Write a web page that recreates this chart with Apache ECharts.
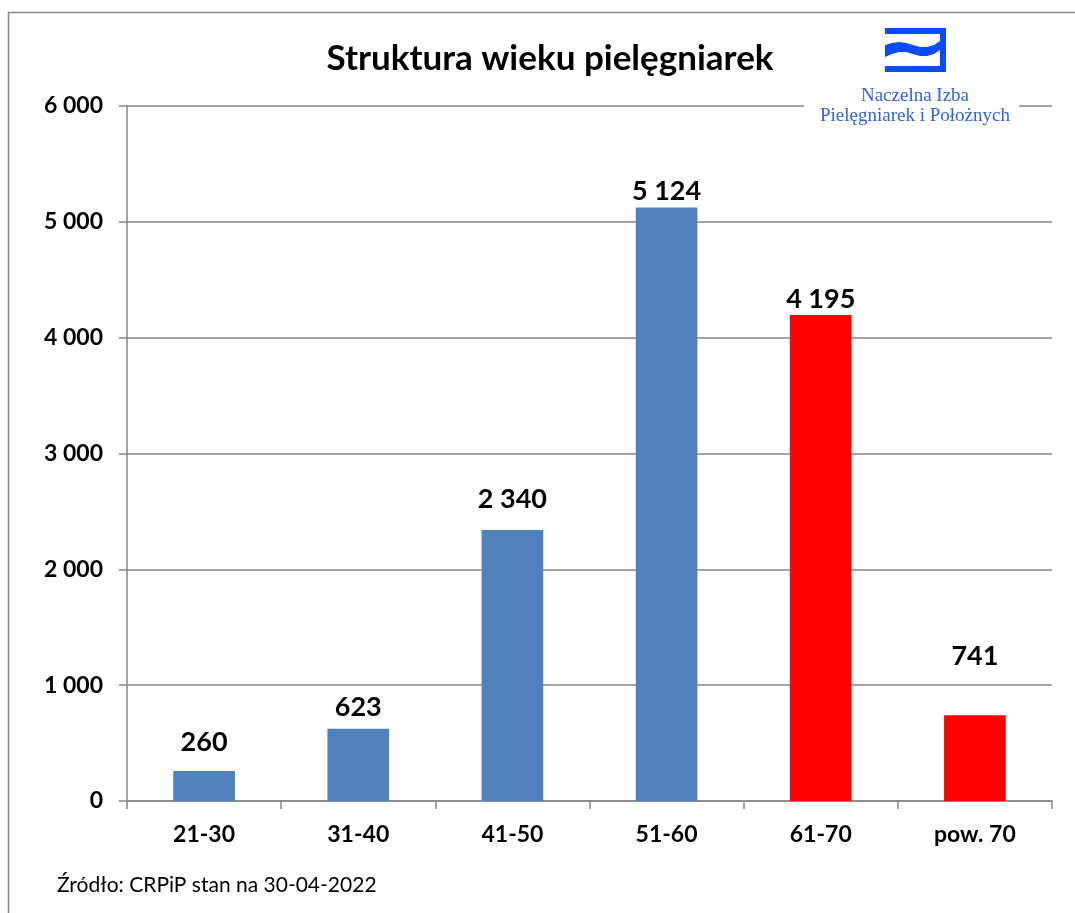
<!DOCTYPE html>
<html>
<head>
	<meta charset="utf-8">
	<title>Struktura wieku pielęgniarek</title>
	<style type="text/css">
		html, body { margin: 0; padding: 0; background: #fff; }
		#chart { width: 1075px; height: 913px; }
	</style>
</head>
<body>
	<div id="chart"></div>
	<script src="https://cdn.jsdelivr.net/npm/echarts@6/dist/echarts.min.js"></script>
	<script type="text/javascript">
		var categories = ['21-30', '31-40', '41-50', '51-60', '61-70', 'pow. 70'];
		var values = [260, 623, 2340, 5124, 4195, 741];
		var barColors = ['#4F81BD', '#4F81BD', '#4F81BD', '#4F81BD', '#FF0000', '#FF0000'];
		// odstęp etykiety od słupka (jak w oryginale)
		var labelGaps = [15, 8, 17, 3, 2, 45];

		function fmt(v) {
			return String(v).replace(/\B(?=(\d{3})+(?!\d))/g, ' ');
		}

		var seriesData = values.map(function(v, i) {
			return {
				value: v,
				itemStyle: { color: barColors[i] },
				label: { distance: labelGaps[i] }
			};
		});

		// fala w logo
		var wave = [
			[885, 45], [892, 43], [899, 42], [906, 43], [913, 45], [920, 47], [927, 47], [934, 45], [940, 41],
			[940, 50], [934, 54], [927, 56], [920, 56], [913, 54], [906, 52], [899, 52], [892, 54], [885, 57]
		];

		var chart = echarts.init(document.getElementById('chart'));
		var option = {
			backgroundColor: '#fff',
			animation: false,
			textStyle: { fontFamily: 'Lato' },
			grid: { left: 127, right: 23, top: 106, bottom: 112 },
			xAxis: {
				type: 'category',
				data: categories,
				axisLine: { lineStyle: { color: '#868686', width: 1.5 } },
				axisTick: { show: true, length: 8, lineStyle: { color: '#868686', width: 1.5 } },
				axisLabel: { color: '#000', fontWeight: 'bold', fontSize: 23, margin: 22 }
			},
			yAxis: {
				type: 'value',
				min: 0,
				max: 6000,
				interval: 1000,
				axisLine: { show: true, lineStyle: { color: '#868686', width: 1.5 } },
				axisTick: { show: true, length: 8, lineStyle: { color: '#868686', width: 1.5 } },
				splitLine: { lineStyle: { color: '#868686', width: 1.5 } },
				axisLabel: {
					color: '#000', fontWeight: 'bold', fontSize: 23, margin: 24,
					formatter: fmt
				}
			},
			series: [{
				type: 'bar',
				data: seriesData,
				barCategoryGap: '60%',
				label: {
					show: true,
					position: 'top',
					color: '#000',
					fontWeight: 'bold',
					fontSize: 27,
					formatter: function(p) { return fmt(p.value); }
				}
			}],
			title: {
				text: 'Struktura wieku pielęgniarek',
				left: 545,
				textAlign: 'center',
				top: 36,
				textStyle: { color: '#000', fontWeight: 'bold', fontSize: 35, fontFamily: 'Lato' }
			},
			graphic: [
				// ramka
				{ type: 'rect', z: 0, silent: true,
					shape: { x: 8.5, y: 12.5, width: 1100, height: 1000 },
					style: { fill: 'none', stroke: '#868686', lineWidth: 1.5 } },
				// tło pod logo
				{ type: 'rect', z: 10, silent: true,
					shape: { x: 804, y: 84, width: 215, height: 44 },
					style: { fill: '#fff' } },
				// logo NIPiP
				{ type: 'rect', z: 11, shape: { x: 885, y: 28, width: 61, height: 6 }, style: { fill: '#0A4BFF' } },
				{ type: 'rect', z: 11, shape: { x: 940, y: 28, width: 6, height: 44 }, style: { fill: '#0A4BFF' } },
				{ type: 'rect', z: 11, shape: { x: 885, y: 66, width: 61, height: 6 }, style: { fill: '#0A4BFF' } },
				{ type: 'polygon', z: 11, shape: { points: wave }, style: { fill: '#0A4BFF' } },
				{ type: 'text', z: 11, x: 915, y: 96,
					style: { text: 'Naczelna Izba', fill: '#2E62E8', fontFamily: 'Liberation Serif', fontSize: 19,
						align: 'center', verticalAlign: 'middle' } },
				{ type: 'text', z: 11, x: 915, y: 116,
					style: { text: 'Pielęgniarek i Położnych', fill: '#2E62E8', fontFamily: 'Liberation Serif', fontSize: 19,
						align: 'center', verticalAlign: 'middle' } },
				// źródło
				{ type: 'text', z: 11, x: 57, y: 885,
					style: { text: 'Źródło: CRPiP stan na 30-04-2022', fill: '#000', fontFamily: 'Lato', fontSize: 21,
						align: 'left', verticalAlign: 'middle' } }
			]
		};
		chart.setOption(option);
		window.onresize = function() {
			chart.resize();
		};
	</script>
</body>
</html>
